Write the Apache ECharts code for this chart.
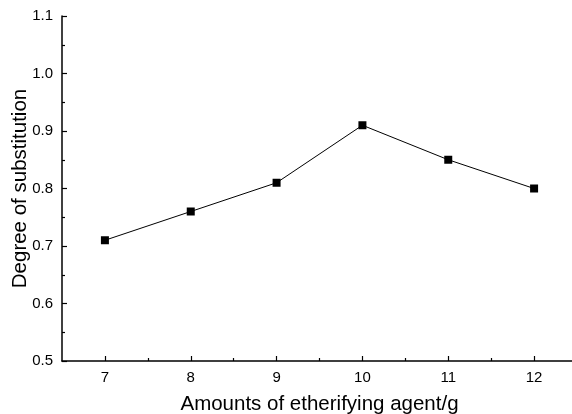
<!DOCTYPE html>
<html><head><meta charset="utf-8">
<script src="https://cdn.jsdelivr.net/npm/echarts@6/dist/echarts.min.js"></script>
<style>html,body{margin:0;padding:0;background:#fff}#c{width:572px;height:414px}</style>
</head><body><div id="c"></div>
<script>
const xValues = [7, 8, 9, 10, 11, 12];
const yValues = [0.71, 0.76, 0.81, 0.91, 0.85, 0.80];
const xTickValues = [7, 8, 9, 10, 11, 12];
const xMinorTickValues = [7.5, 8.5, 9.5, 10.5, 11.5];
const xTitle = 'Amounts of etherifying agent/g';
const yTitle = 'Degree of substitution';

const font = 'Liberation Sans, Arial, sans-serif';
const chart = echarts.init(document.getElementById('c'));
chart.setOption({
  animation: false,
  backgroundColor: '#fff',
  grid: { left: 62, top: 16, bottom: 53, width: 515, containLabel: false, outerBoundsMode: 'none' },
  xAxis: [{
    type: 'value', min: 6.5, max: 12.5,
    name: xTitle, nameLocation: 'middle', nameGap: 33, nameMoveOverlap: false,
    nameTextStyle: { fontFamily: font, fontSize: 20.5, color: '#000' },
    axisLine: { show: true, onZero: false, lineStyle: { color: '#000', width: 1.5 } },
    axisTick: { show: true, inside: true, length: 5, customValues: xTickValues, lineStyle: { color: '#000', width: 1.2 } },
    axisLabel: { customValues: xTickValues, fontFamily: font, fontSize: 15, color: '#000', margin: 9 },
    splitLine: { show: false }
  }, {
    type: 'value', min: 6.5, max: 12.5, position: 'bottom',
    axisLine: { show: false },
    axisTick: { show: true, inside: true, length: 3, customValues: xMinorTickValues, lineStyle: { color: '#000', width: 1.2 } },
    axisLabel: { show: false },
    splitLine: { show: false }
  }],
  yAxis: {
    type: 'value', min: 0.5, max: 1.1, interval: 0.1,
    name: yTitle, nameLocation: 'middle', nameGap: 31, nameMoveOverlap: false,
    nameTextStyle: { fontFamily: font, fontSize: 20.5, color: '#000' },
    axisLine: { show: true, onZero: false, lineStyle: { color: '#000', width: 1.5 } },
    axisTick: { show: true, inside: true, length: 5, lineStyle: { color: '#000', width: 1.2 } },
    minorTick: { show: true, splitNumber: 2, length: 3, lineStyle: { color: '#000', width: 1.2 } },
    axisLabel: { fontFamily: font, fontSize: 15, color: '#000', margin: 9, formatter: v => v.toFixed(1) },
    splitLine: { show: false }
  },
  series: [{
    type: 'line',
    data: xValues.map((x, i) => [x, yValues[i]]),
    symbol: 'rect', symbolSize: 8,
    itemStyle: { color: '#000' },
    lineStyle: { color: '#000', width: 1 }
  }]
});
</script></body></html>
